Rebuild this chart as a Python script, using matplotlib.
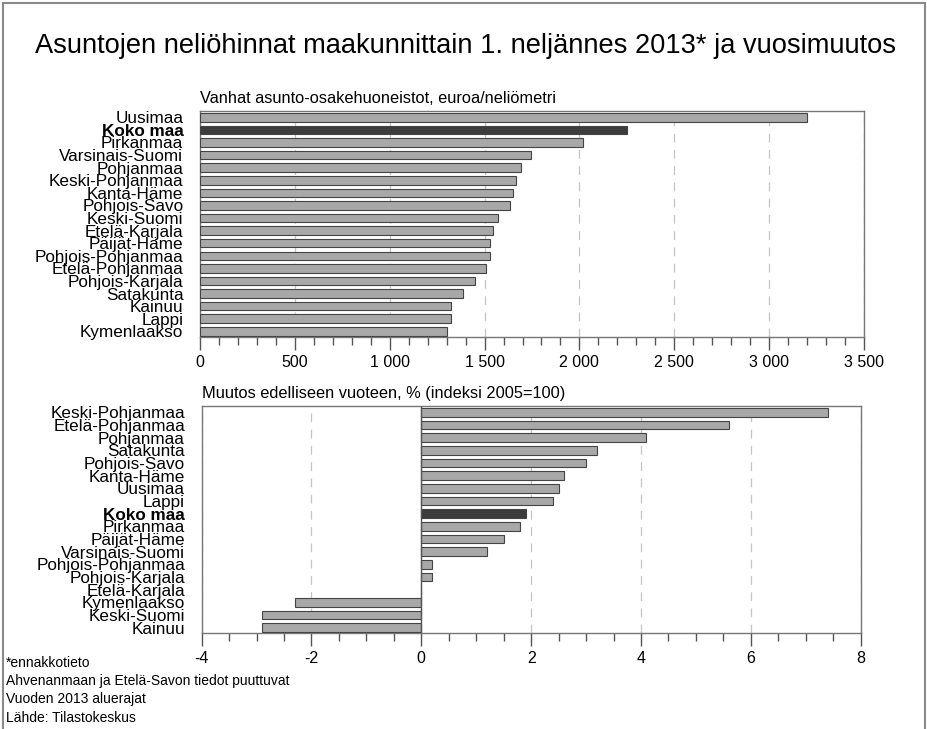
import matplotlib.pyplot as plt
import matplotlib.ticker as mticker
from matplotlib.patches import Rectangle

plt.rcParams['font.family'] = ['Liberation Sans', 'DejaVu Sans']
plt.rcParams['axes.unicode_minus'] = False

# hinnat, euroa/m2
hinta_alueet = ["Uusimaa", "Koko maa", "Pirkanmaa", "Varsinais-Suomi", "Pohjanmaa",
                "Keski-Pohjanmaa", "Kanta-Häme", "Pohjois-Savo", "Keski-Suomi",
                "Etelä-Karjala", "Päijät-Häme", "Pohjois-Pohjanmaa", "Etelä-Pohjanmaa",
                "Pohjois-Karjala", "Satakunta", "Kainuu", "Lappi", "Kymenlaakso"]
hinnat = [3200, 2250, 2020, 1743, 1690, 1666, 1650, 1632, 1569,
          1545, 1529, 1527, 1508, 1450, 1386, 1323, 1322, 1302]

# muutos %, edelliseen vuoteen
muutos_alueet = ["Keski-Pohjanmaa", "Etelä-Pohjanmaa", "Pohjanmaa", "Satakunta",
                 "Pohjois-Savo", "Kanta-Häme", "Uusimaa", "Lappi", "Koko maa",
                 "Pirkanmaa", "Päijät-Häme", "Varsinais-Suomi", "Pohjois-Pohjanmaa",
                 "Pohjois-Karjala", "Etelä-Karjala", "Kymenlaakso", "Keski-Suomi", "Kainuu"]
muutokset = [7.4, 5.6, 4.1, 3.2, 3.0, 2.6, 2.5, 2.4, 1.9,
             1.8, 1.5, 1.2, 0.2, 0.2, 0.0, -2.3, -2.9, -2.9]

harmaa = '#a8a8a8'
tumma = '#3c3c3c'
reuna = '#444444'

fig = plt.figure(figsize=(9.27, 7.29), dpi=100)
fig.patches.append(Rectangle((3/927, -0.02), 922/927, 1.02 - 3/729, transform=fig.transFigure,
                             fill=False, edgecolor='#8a8a8a', linewidth=1.5))

fig.text(0.502, 1 - 46/729, "Asuntojen neliöhinnat maakunnittain 1. neljännes 2013* ja vuosimuutos",
         ha='center', va='center', fontsize=19.6)


def piirra(ax, alueet, arvot):
    y = list(range(len(alueet)))
    varit = [tumma if a == "Koko maa" else harmaa for a in alueet]
    ax.barh(y, arvot, height=0.68, color=varit, edgecolor=reuna, linewidth=0.8, zorder=3)
    ax.set_yticks(y)
    ax.set_yticklabels(alueet, fontsize=12.3)
    for lab in ax.get_yticklabels():
        if lab.get_text() == "Koko maa":
            lab.set_fontweight('bold')
    ax.tick_params(axis='y', length=0, pad=12)
    ax.tick_params(axis='x', which='major', length=9, width=1, color='#555555', labelsize=11.5, pad=4, direction='out')
    ax.tick_params(axis='x', which='minor', length=6, width=1, color='#555555', direction='out')
    ax.set_ylim(len(alueet) - 0.55, -0.5)
    ax.grid(axis='x', which='major', linestyle=(0, (7, 6)), color='#c4c4c4', linewidth=0.9, zorder=0)
    for s in ax.spines.values():
        s.set_color('#777777')
        s.set_linewidth(1)


ax1 = fig.add_axes([200/927, 1 - 337/729, 664/927, 226/729])
piirra(ax1, hinta_alueet, hinnat)
ax1.set_xlim(0, 3500)
ax1.xaxis.set_major_locator(mticker.MultipleLocator(500))
ax1.xaxis.set_minor_locator(mticker.MultipleLocator(100))
ax1.xaxis.set_major_formatter(mticker.FuncFormatter(lambda v, p: f"{int(v):,}".replace(",", " ")))
ax1.text(0, 1.02, "Vanhat asunto-osakehuoneistot, euroa/neliömetri", transform=ax1.transAxes,
         fontsize=11.8, ha='left', va='bottom')

ax2 = fig.add_axes([201.6/927, 1 - 633.3/729, 659.1/927, 227.3/729])
piirra(ax2, muutos_alueet, muutokset)
ax2.set_xlim(-4, 8)
ax2.xaxis.set_major_locator(mticker.MultipleLocator(2))
ax2.xaxis.set_minor_locator(mticker.MultipleLocator(0.5))
ax2.axvline(0, color='#555555', linewidth=1, zorder=4)
ax2.text(0, 1.02, "Muutos edelliseen vuoteen, % (indeksi 2005=100)", transform=ax2.transAxes,
         fontsize=11.8, ha='left', va='bottom')

alaviite = ["*ennakkotieto", "Ahvenanmaan ja Etelä-Savon tiedot puuttuvat",
            "Vuoden 2013 aluerajat", "Lähde: Tilastokeskus"]
for i, rivi in enumerate(alaviite):
    fig.text(6/927, 1 - (663 + i * 18.2)/729, rivi, fontsize=10, ha='left', va='center')

plt.savefig('out.png', dpi=100)
